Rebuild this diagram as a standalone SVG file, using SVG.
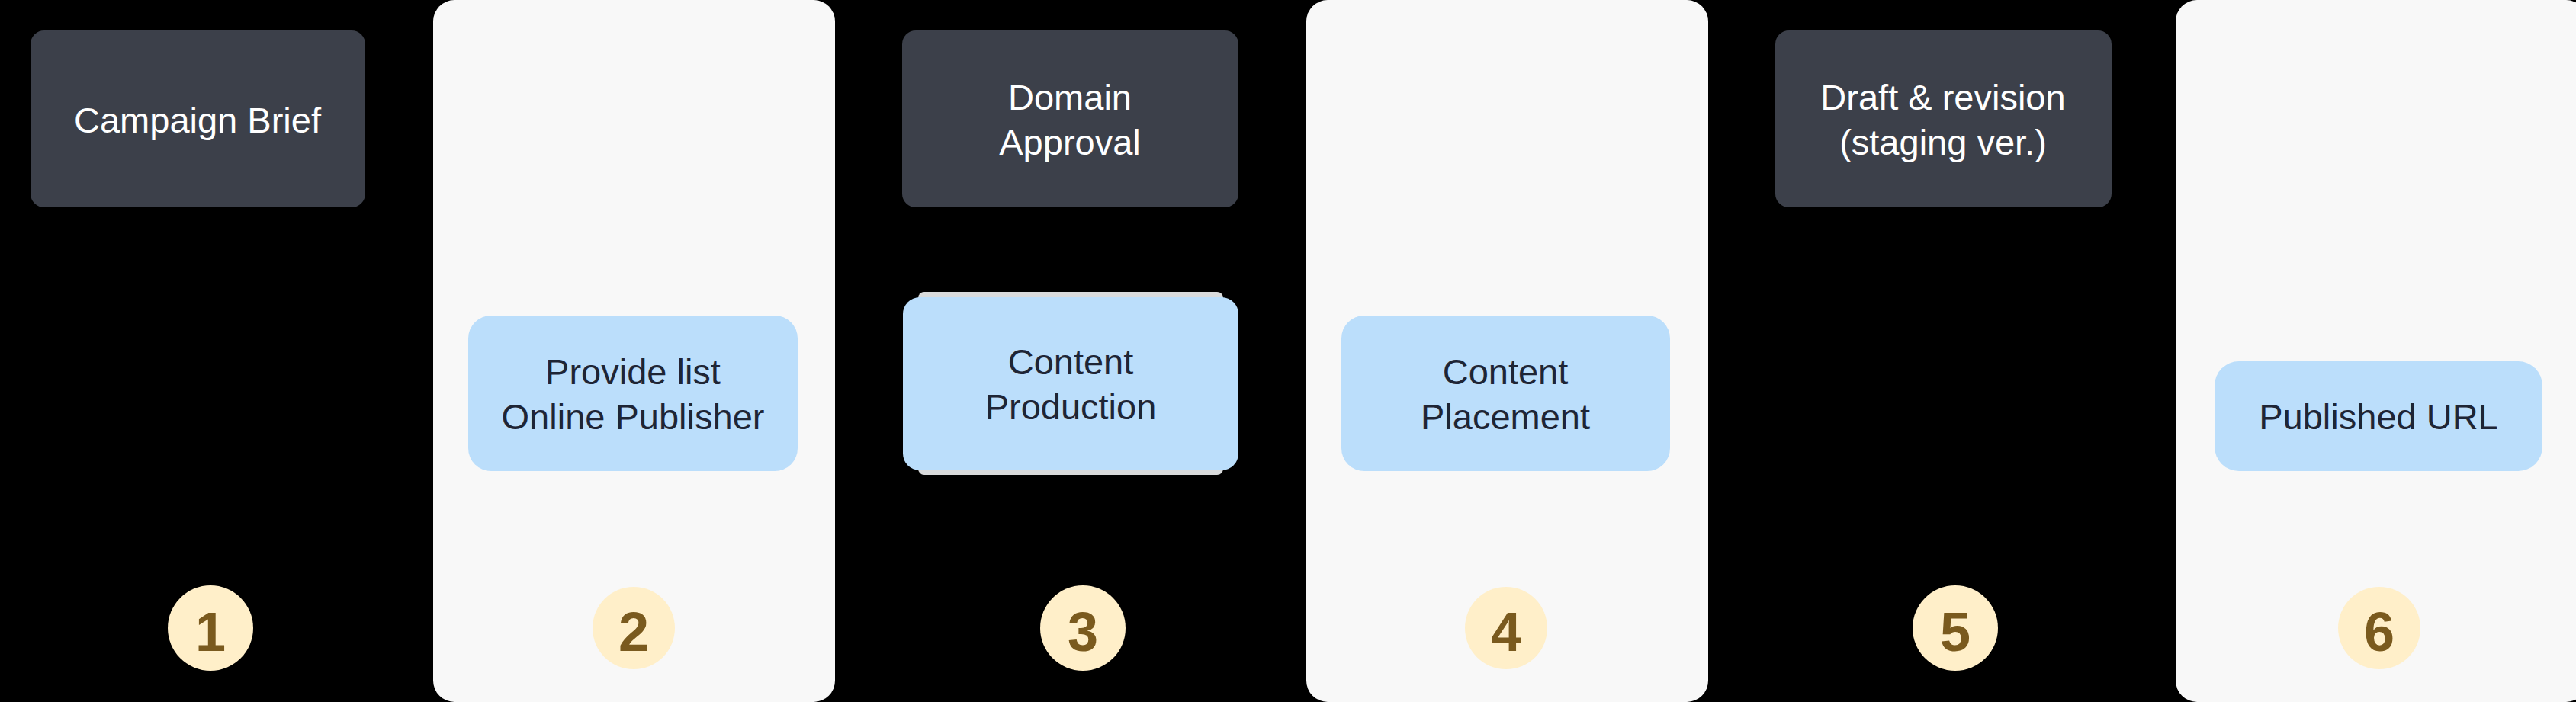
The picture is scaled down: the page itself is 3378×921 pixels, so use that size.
<svg xmlns="http://www.w3.org/2000/svg" width="3378" height="921" viewBox="0 0 3378 921">
  <style>
    .panel { fill: #F8F8F8; }
    .dark { fill: #3C404A; }
    .blue { fill: #BBDEFB; }
    .shade { fill: #D9DBDC; }
    .lbl { font-family: "Liberation Sans", Arial, sans-serif; font-size: 47px; text-anchor: middle; }
    .lw { fill: #FFFFFF; }
    .ld { fill: #1E2535; }
    .badge { fill: #FFEFC9; }
    .num { font-family: "Liberation Sans", Arial, sans-serif; font-size: 72px; font-weight: 700; fill: #7A5A1E; text-anchor: middle; }
  </style>
  <rect x="0" y="0" width="3378" height="921" fill="#000000"/>

  <g id="lanes">
    <rect class="panel" x="568" y="0" width="527" height="921" rx="28"/>
    <rect class="panel" x="1713" y="0" width="527" height="921" rx="28"/>
    <rect class="panel" x="2853" y="0" width="540" height="921" rx="28"/>
  </g>

  <g id="connectors"></g>

  <g id="campaign-brief">
    <rect class="dark" x="40" y="40" width="439" height="232" rx="18"/>
    <text class="lbl lw" x="259" y="174">Campaign Brief</text>
  </g>

  <g id="provide-list">
    <rect class="blue" x="614" y="414" width="432" height="204" rx="30"/>
    <text class="lbl ld" x="830" y="504">Provide list</text>
    <text class="lbl ld" x="830" y="563">Online Publisher</text>
  </g>

  <g id="domain-approval">
    <rect class="dark" x="1183" y="40" width="441" height="232" rx="18"/>
    <text class="lbl lw" x="1403" y="144">Domain</text>
    <text class="lbl lw" x="1403" y="203">Approval</text>
  </g>

  <g id="content-production">
    <rect class="shade" x="1204" y="383" width="400" height="240" rx="8"/>
    <rect class="blue" x="1184" y="390" width="440" height="227" rx="22"/>
    <text class="lbl ld" x="1404" y="491">Content</text>
    <text class="lbl ld" x="1404" y="550">Production</text>
  </g>

  <g id="content-placement">
    <rect class="blue" x="1759" y="414" width="431" height="204" rx="30"/>
    <text class="lbl ld" x="1974" y="504">Content</text>
    <text class="lbl ld" x="1974" y="563">Placement</text>
  </g>

  <g id="draft-revision">
    <rect class="dark" x="2328" y="40" width="441" height="232" rx="18"/>
    <text class="lbl lw" x="2548" y="144">Draft &amp; revision</text>
    <text class="lbl lw" x="2548" y="203">(staging ver.)</text>
  </g>

  <g id="published-url">
    <rect class="blue" x="2904" y="474" width="430" height="144" rx="32"/>
    <text class="lbl ld" x="3119" y="563">Published URL</text>
  </g>

  <g id="step-1">
    <circle class="badge" cx="276" cy="824" r="56"/>
    <text class="num" x="276" y="854">1</text>
  </g>
  <g id="step-2">
    <circle class="badge" cx="831" cy="824" r="54"/>
    <text class="num" x="831" y="854">2</text>
  </g>
  <g id="step-3">
    <circle class="badge" cx="1420" cy="824" r="56"/>
    <text class="num" x="1420" y="854">3</text>
  </g>
  <g id="step-4">
    <circle class="badge" cx="1975" cy="824" r="54"/>
    <text class="num" x="1975" y="854">4</text>
  </g>
  <g id="step-5">
    <circle class="badge" cx="2564" cy="824" r="56"/>
    <text class="num" x="2564" y="854">5</text>
  </g>
  <g id="step-6">
    <circle class="badge" cx="3120" cy="824" r="54"/>
    <text class="num" x="3120" y="854">6</text>
  </g>
</svg>
